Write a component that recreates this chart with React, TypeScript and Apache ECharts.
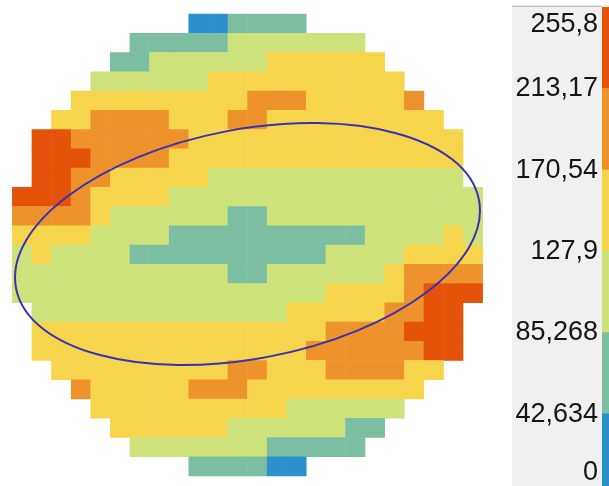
import React, { useEffect, useRef } from "react";
import * as echarts from "echarts";

// Cell bands: '.' = outside the disc, 0..5 = colour band index
const GRID_ROWS: string[] = [
  ".........001111.........",
  "......111112222222......",
  ".....11222222333333.....",
  "....2222223333333333....",
  "...333333333444333334...",
  "..33444433344333333333..",
  ".5544444433333333333333.",
  ".5554444333333333333333.",
  ".5544333332222222222222.",
  "555433332222222222222222",
  "444432222221122222222222",
  "333322221111111111222232",
  "232222111111111122223333",
  "222222222221122222234444",
  "222222222222222233334555",
  ".2222222222222333334455.",
  ".3333333333333334444555.",
  ".3333333333333344444455.",
  "..33333333344333444433..",
  "...433333444333333333...",
  "....3333333333222222....",
  ".....33333322222211.....",
  "......222222211111......",
  ".........111100.........",
];

const BAND_LIMITS = [0, 42.634, 85.268, 127.9, 170.54, 213.17, 255.8];
const BAND_VALUES = [21, 64, 106, 149, 192, 234];
const BAND_COLORS = ["#2b90cc", "#7bbea1", "#cde27a", "#f6d44b", "#ee922c", "#e5530a"];
const LEGEND_LABELS = ["255,8", "213,17", "170,54", "127,9", "85,268", "42,634", "0"];

export default function App() {
  const ref = useRef<HTMLDivElement>(null);

  useEffect(() => {
    if (!ref.current) return;
    const chart = echarts.init(ref.current, null, { renderer: "svg" });

    const nRows = GRID_ROWS.length;
    const nCols = GRID_ROWS[0].length;
    const data: number[][] = [];
    GRID_ROWS.forEach((row, r) => {
      for (let c = 0; c < row.length; c++) {
        const ch = row[c];
        if (ch === ".") continue;
        data.push([c, r, BAND_VALUES[Number(ch)]]);
      }
    });

    const gridLeft = 12.3;
    const gridTop = 14;
    const gridW = 470.4;
    const gridH = 462;
    const cx = gridLeft + gridW / 2;
    const cy = gridTop + gridH / 2 - 1;

    // legend panel
    const barTop = 7;
    const bandH = 81.3;
    const nb = BAND_COLORS.length;
    const legendEls: any[] = [
      { type: "rect", shape: { x: 512, y: 5, width: 97, height: 481 }, style: { fill: "#f0f0f0" }, z: 1 },
      { type: "line", shape: { x1: 512, y1: 6.5, x2: 602, y2: 6.5 }, style: { stroke: "#b8b8b8", lineWidth: 1 }, z: 2 },
    ];
    for (let i = 0; i < nb; i++) {
      legendEls.push({
        type: "rect",
        shape: { x: 602, y: barTop + i * bandH, width: 8, height: bandH + 0.5 },
        style: { fill: BAND_COLORS[nb - 1 - i] },
        z: 2,
      });
    }
    LEGEND_LABELS.forEach((label, i) => {
      const yb = barTop + i * bandH - 1;
      const y = Math.min(Math.max(yb, 23), 471);
      legendEls.push({
        type: "text",
        x: 598,
        y,
        style: {
          text: label,
          fill: "#151515",
          font: "27px 'Liberation Sans', Arial, sans-serif",
          textAlign: "right",
          textVerticalAlign: "middle",
        },
        z: 3,
      });
    });

    chart.setOption({
      animation: false,
      grid: { left: gridLeft, top: gridTop, width: gridW, height: gridH },
      xAxis: {
        type: "category",
        data: Array.from({ length: nCols }, (_, i) => String(i)),
        show: false,
      },
      yAxis: {
        type: "category",
        data: Array.from({ length: nRows }, (_, i) => String(i)),
        show: false,
        inverse: true,
      },
      visualMap: {
        type: "piecewise",
        show: false,
        dimension: 2,
        pieces: BAND_COLORS.map((color, i) => ({ min: BAND_LIMITS[i], max: BAND_LIMITS[i + 1], color })),
      },
      series: [
        {
          type: "heatmap",
          data,
          silent: true,
          emphasis: { disabled: true },
          itemStyle: { borderWidth: 0 },
        },
      ],
      graphic: [
        {
          type: "ellipse",
          x: cx,
          y: cy,
          rotation: (10.8 * Math.PI) / 180,
          shape: { cx: 0, cy: 0, rx: 235.7, ry: 114.7 },
          style: { fill: "none", stroke: "#3a31b2", lineWidth: 2 },
          z: 100,
        },
        ...legendEls,
      ],
    });

    return () => chart.dispose();
  }, []);

  return (
    <div
      ref={ref}
      style={{ position: "fixed", left: 0, top: 0, width: 609, height: 486 }}
    />
  );
}
